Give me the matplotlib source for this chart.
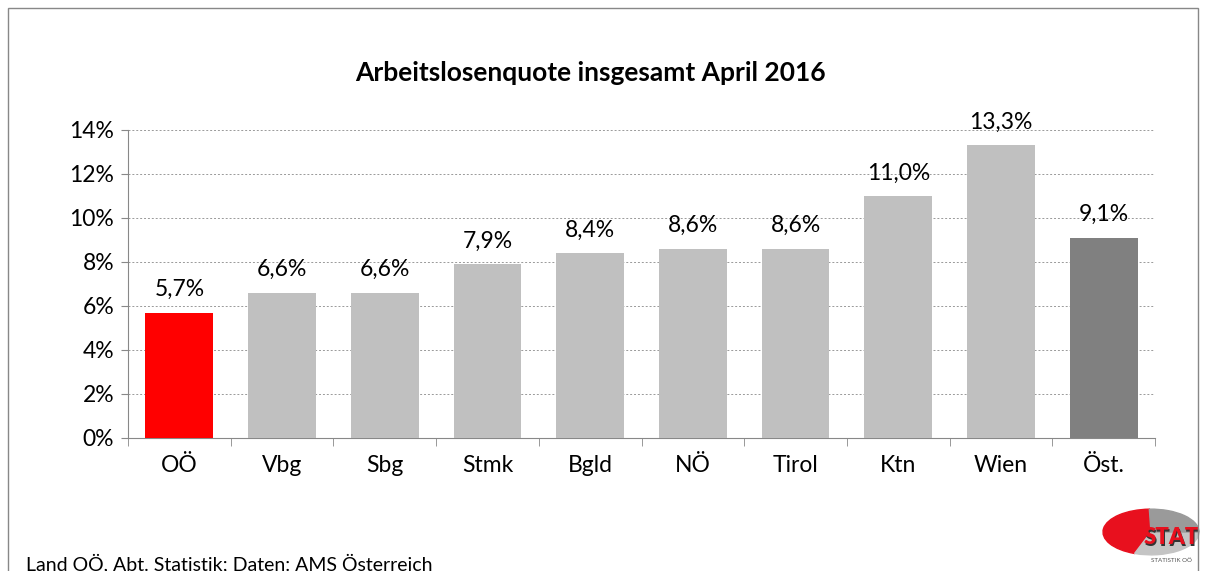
import numpy as np
import matplotlib.pyplot as plt
from matplotlib.patches import Wedge, Rectangle
from matplotlib.ticker import MultipleLocator, FuncFormatter

plt.rcParams['font.family'] = ['Lato', 'DejaVu Sans']

regions = ['OÖ', 'Vbg', 'Sbg', 'Stmk', 'Bgld', 'NÖ', 'Tirol', 'Ktn', 'Wien', 'Öst.']
rates = [5.7, 6.6, 6.6, 7.9, 8.4, 8.6, 8.6, 11.0, 13.3, 9.1]
colors = ['#ff0000'] + ['#c0c0c0'] * 8 + ['#808080']

W, H = 1206, 571
fig = plt.figure(figsize=(W / 100, H / 100), dpi=100)

# frame around the whole chart (bottom edge lies outside the picture)
fig.patches.append(Rectangle((8 / W, -0.1), 1190 / W, (H - 8) / H + 0.1,
                             transform=fig.transFigure, fill=False,
                             edgecolor='#888888', lw=1.0))

ax = fig.add_axes([128 / W, 1 - 438 / H, (1155 - 128) / W, (438 - 130) / H])
x = np.arange(len(regions))
ax.bar(x, rates, width=0.66, color=colors, zorder=3)

ax.set_xlim(-0.5, len(regions) - 0.5)
ax.set_ylim(0, 14)
ax.yaxis.set_major_locator(MultipleLocator(2))
ax.yaxis.set_major_formatter(FuncFormatter(lambda v, p: f'{v:.0f}%'))
ax.grid(axis='y', linestyle=(0, (2, 2)), color='#999999', lw=0.7, zorder=0)

ax.set_xticks(x)
ax.set_xticklabels(regions)
ax.set_xticks(np.arange(-0.5, len(regions)), minor=True)
ax.tick_params(axis='x', which='major', length=0, pad=12, labelsize=16.5)
ax.tick_params(axis='x', which='minor', length=6, color='#888888', direction='out')
ax.tick_params(axis='y', length=5, color='#888888', labelsize=16.5, pad=5)

for s in ['top', 'right']:
    ax.spines[s].set_visible(False)
for s in ['left', 'bottom']:
    ax.spines[s].set_color('#888888')

for xi, v in zip(x, rates):
    ax.annotate(f'{v:.1f}%'.replace('.', ','), (xi, v), xytext=(0, 9),
                textcoords='offset points', ha='center', va='bottom', fontsize=16.5)

fig.text(590 / W, 1 - 73 / H, 'Arbeitslosenquote insgesamt April 2016',
         ha='center', va='center', fontsize=19, fontweight='bold')

fig.text(26 / W, 1 - 563 / H, 'Land OÖ, Abt. Statistik; Daten: AMS Österreich',
         ha='left', va='center', fontsize=14)

# logo, in pixel units (y squashed so the circle becomes an ellipse)
sq = 2.1
lax = fig.add_axes([1100 / W, 0, 106 / W, 66 / H])
lax.set_xlim(0, 106)
lax.set_ylim(0, 66 * sq)
lax.axis('off')
c = (51, 39 * sq)
r = 48
lax.add_patch(Wedge(c, r, 92, 250, color='#e8101e'))
lax.add_patch(Wedge(c, r, 250, 360, color='#c4c4c4'))
lax.add_patch(Wedge(c, r, 0, 92, color='#9a9a9a'))
lax.text(72, 32 * sq, 'STAT', ha='center', va='center', fontsize=16,
         fontweight='heavy', color='#333333')
lax.text(71, 33 * sq, 'STAT', ha='center', va='center', fontsize=16,
         fontweight='heavy', color='#e8101e')
lax.text(71, 11 * sq, 'STATISTIK OÖ', ha='center', va='center', fontsize=4.5,
         color='#555555')

fig.savefig('out.png', dpi=100)
